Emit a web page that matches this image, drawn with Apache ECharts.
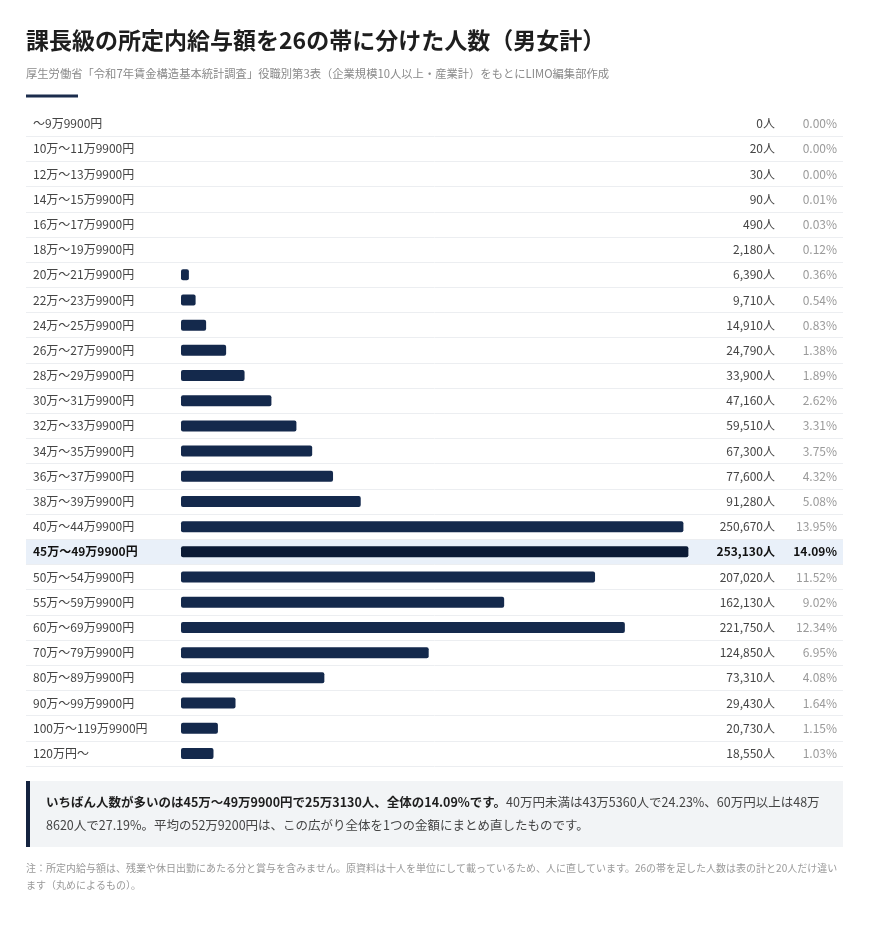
<!DOCTYPE html>
<html lang="ja">
<head>
<meta charset="utf-8">
<title>課長級の所定内給与額を26の帯に分けた人数（男女計）</title>
<script src="https://cdn.jsdelivr.net/npm/echarts@6/dist/echarts.min.js"></script>
<style>
  html, body { margin: 0; padding: 0; background: #ffffff; }
  #chart { width: 870px; height: 943px; }
</style>
</head>
<body>
<div id="chart"></div>
<script>
const categories = [
  '〜9万9900円', '10万〜11万9900円', '12万〜13万9900円', '14万〜15万9900円',
  '16万〜17万9900円', '18万〜19万9900円', '20万〜21万9900円', '22万〜23万9900円',
  '24万〜25万9900円', '26万〜27万9900円', '28万〜29万9900円', '30万〜31万9900円',
  '32万〜33万9900円', '34万〜35万9900円', '36万〜37万9900円', '38万〜39万9900円',
  '40万〜44万9900円', '45万〜49万9900円', '50万〜54万9900円', '55万〜59万9900円',
  '60万〜69万9900円', '70万〜79万9900円', '80万〜89万9900円', '90万〜99万9900円',
  '100万〜119万9900円', '120万円〜'
];
const counts = [
  0, 20, 30, 90, 490, 2180, 6390, 9710, 14910, 24790, 33900, 47160, 59510,
  67300, 77600, 91280, 250670, 253130, 207020, 162130, 221750, 124850,
  73310, 29430, 20730, 18550
];
const shares = [
  '0.00', '0.00', '0.00', '0.01', '0.03', '0.12', '0.36', '0.54', '0.83',
  '1.38', '1.89', '2.62', '3.31', '3.75', '4.32', '5.08', '13.95', '14.09',
  '11.52', '9.02', '12.34', '6.95', '4.08', '1.64', '1.15', '1.03'
];
const highlightIndex = 17;

const titleText = '課長級の所定内給与額を26の帯に分けた人数（男女計）';
const subtitleText = '厚生労働省「令和7年賃金構造基本統計調査」役職別第3表（企業規模10人以上・産業計）をもとにLIMO編集部作成';
const calloutBold = 'いちばん人数が多いのは45万〜49万9900円で25万3130人、全体の14.09%です。';
const calloutLine1 = '40万円未満は43万5360人で24.23%、60万円以上は48万';
const calloutLine2 = '8620人で27.19%。平均の52万9200円は、この広がり全体を1つの金額にまとめ直したものです。';
const noteLine1 = '注：所定内給与額は、残業や休日出勤にあたる分と賞与を含みません。原資料は十人を単位にして載っているため、人に直しています。26の帯を足した人数は表の計と20人だけ違い';
const noteLine2 = 'ます（丸めによるもの）。';

const FONT = '"Noto Sans CJK JP", "Noto Sans", sans-serif';
const NAVY = '#14294c';
const NAVY_DARK = '#0b1a35';

const fmtCount = v => v.toLocaleString('en-US') + '人';
const highlightBand = counts.map((_, i) => (i === highlightIndex ? 1 : 0));

const chart = echarts.init(document.getElementById('chart'), null, { renderer: 'canvas' });

const labelRich = {
  b: { fontWeight: 'bold', color: '#111', fontSize: 12, fontFamily: FONT }
};

const option = {
  animation: false,
  backgroundColor: '#ffffff',
  textStyle: { fontFamily: FONT },
  title: [
    {
      text: titleText,
      left: 21,
      top: 24,
      textStyle: { fontSize: 23, fontWeight: 'bold', color: '#1e1e1e', fontFamily: FONT }
    },
    {
      text: subtitleText,
      left: 21,
      top: 63,
      textStyle: { fontSize: 11.3, fontWeight: 'normal', color: '#8a8a8a', fontFamily: FONT }
    }
  ],
  grid: [
    { left: 26, right: 27, top: 111, bottom: 177 },
    { left: 181, right: 26, top: 111, bottom: 177 }
  ],
  xAxis: [
    { type: 'value', gridIndex: 0, min: 0, max: 1, show: false },
    { type: 'value', gridIndex: 1, min: 2500, max: 330000, show: false }
  ],
  yAxis: [
    {
      type: 'category', gridIndex: 0, data: categories, inverse: true, position: 'left', z: 5,
      axisLine: { show: false }, axisTick: { show: false },
      splitLine: { show: true, showMinLine: false, lineStyle: { color: '#eceef1', width: 1 } },
      axisLabel: {
        inside: true, margin: 7, fontSize: 12, color: '#444', fontFamily: FONT,
        formatter: (v, i) => (i === highlightIndex ? '{b|' + v + '}' : v),
        rich: labelRich
      }
    },
    {
      type: 'category', gridIndex: 0, data: categories, inverse: true, position: 'right', z: 5,
      axisLine: { show: false }, axisTick: { show: false }, splitLine: { show: false },
      axisLabel: {
        inside: true, margin: 68, fontSize: 12, color: '#444', fontFamily: FONT,
        formatter: (v, i) => (i === highlightIndex ? '{b|' + fmtCount(counts[i]) + '}' : fmtCount(counts[i])),
        rich: labelRich
      }
    },
    {
      type: 'category', gridIndex: 0, data: categories, inverse: true, position: 'right', z: 5,
      axisLine: { show: false }, axisTick: { show: false }, splitLine: { show: false },
      axisLabel: {
        inside: true, margin: 6, fontSize: 12, color: '#9a9a9a', fontFamily: FONT,
        formatter: (v, i) => (i === highlightIndex ? '{b|' + shares[i] + '%}' : shares[i] + '%'),
        rich: labelRich
      }
    },
    {
      type: 'category', gridIndex: 1, data: categories, inverse: true, show: false
    }
  ],
  series: [
    {
      type: 'bar', name: 'highlight', xAxisIndex: 0, yAxisIndex: 0,
      data: highlightBand, barWidth: '100%', silent: true, z: 1,
      itemStyle: { color: '#e9f0f9' }
    },
    {
      type: 'bar', name: '人数', xAxisIndex: 1, yAxisIndex: 3,
      data: counts, barWidth: 11, z: 3, clip: true,
      itemStyle: {
        borderRadius: 2,
        color: p => (p.dataIndex === highlightIndex ? NAVY_DARK : NAVY)
      }
    }
  ],
  graphic: [
    { type: 'rect', shape: { x: 26, y: 94.5, width: 52, height: 3 }, style: { fill: '#1b2c4c' } },
    { type: 'rect', shape: { x: 26, y: 781, width: 817, height: 66 }, style: { fill: '#f2f4f6' } },
    { type: 'rect', shape: { x: 26, y: 781, width: 4, height: 66 }, style: { fill: '#14233f' } },
    {
      type: 'text', x: 46, y: 813.5,
      style: {
        text: '{b|' + calloutBold + '}{n|' + calloutLine1 + '}\n{n|' + calloutLine2 + '}',
        verticalAlign: 'middle',
        rich: {
          b: { fontSize: 12.5, fontWeight: 'bold', fill: '#1e1e1e', fontFamily: FONT, lineHeight: 23 },
          n: { fontSize: 12.5, fontWeight: 'normal', fill: '#444', fontFamily: FONT, lineHeight: 23 }
        }
      }
    },
    {
      type: 'text', x: 26, y: 876.5,
      style: {
        text: noteLine1 + '\n' + noteLine2,
        verticalAlign: 'middle',
        fontSize: 10, lineHeight: 17, fill: '#999', fontFamily: FONT
      }
    }
  ]
};

chart.setOption(option);
</script>
</body>
</html>
